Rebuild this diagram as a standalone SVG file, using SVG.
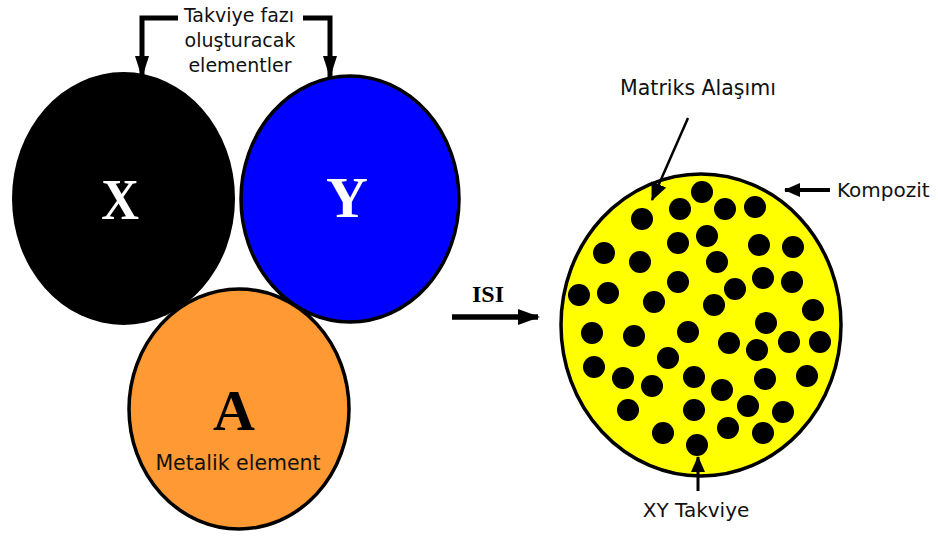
<svg xmlns="http://www.w3.org/2000/svg" width="938" height="545" viewBox="0 0 938 545">
<style>
.lbl{font-family:"DejaVu Sans","Liberation Sans",sans-serif;font-size:20px;fill:#111;}
.big{font-family:"Liberation Serif","Times New Roman",serif;font-weight:bold;font-size:58px;text-anchor:middle;}
.ln{stroke:#000;fill:none;}
.dot{fill:#000;}
</style>
<defs>
<marker id="ahT" markerUnits="userSpaceOnUse" markerWidth="22" markerHeight="16" refX="20" refY="8" orient="auto">
<path d="M0,0 L22,8 L0,16 Z" fill="#000"/>
</marker>
<marker id="ahS" markerUnits="userSpaceOnUse" markerWidth="16" markerHeight="14" refX="15" refY="7" orient="auto">
<path d="M0,0 L16,7 L0,14 Z" fill="#000"/>
</marker>
<marker id="ahB" markerUnits="userSpaceOnUse" markerWidth="22" markerHeight="14" refX="21" refY="7" orient="auto">
<path d="M0,0 L22,7 L0,14 Z" fill="#000"/>
</marker>
<marker id="ahM" markerUnits="userSpaceOnUse" markerWidth="18" markerHeight="16" refX="17" refY="8" orient="auto">
<path d="M0,0 L18,8 L0,16 Z" fill="#000"/>
</marker>
</defs>
<rect width="938" height="545" fill="#fff"/>

<g id="nodeX">
<ellipse cx="123.5" cy="198.5" rx="111.5" ry="126.5" fill="#000"/>
<text class="big" x="120" y="219" fill="#fff" transform="translate(120,0) scale(0.9,1) translate(-120,0)">X</text>
</g>
<g id="nodeY">
<ellipse cx="350" cy="199" rx="109" ry="123" fill="#0000FF" stroke="#000" stroke-width="3.5"/>
<text class="big" x="347" y="217" fill="#fff">Y</text>
</g>
<g id="nodeA">
<ellipse cx="239" cy="409" rx="110" ry="120" fill="#FF9933" stroke="#000" stroke-width="3.5"/>
<text class="big" x="234" y="430" fill="#000">A</text>
<text class="lbl" x="238" y="470" text-anchor="middle" style="font-size:20.5px">Metalik element</text>
</g>

<g id="label-takviye">
<text class="lbl" x="239" y="22" text-anchor="middle" style="font-size:19px">Takviye fazı</text>
<text class="lbl" x="240" y="47" text-anchor="middle" style="font-size:19px">oluşturacak</text>
<text class="lbl" x="240" y="72" text-anchor="middle" style="font-size:19px">elementler</text>
</g>

<g id="nodeKompozit">
<ellipse cx="701" cy="325" rx="140" ry="151" fill="#FFFF00" stroke="#000" stroke-width="3.5"/>
<g class="dot">
<circle cx="702" cy="192" r="11"/><circle cx="680" cy="209" r="11"/><circle cx="725" cy="209" r="11"/><circle cx="755" cy="207" r="11"/>
<circle cx="642" cy="219" r="11"/><circle cx="707" cy="236" r="11"/><circle cx="678" cy="243" r="11"/><circle cx="759" cy="245" r="11"/>
<circle cx="793" cy="247" r="11"/><circle cx="604" cy="253" r="11"/><circle cx="640" cy="262" r="11"/><circle cx="717" cy="262" r="11"/>
<circle cx="678" cy="282" r="11"/><circle cx="735" cy="289" r="11"/><circle cx="763" cy="278" r="11"/><circle cx="792" cy="282" r="11"/>
<circle cx="579" cy="295" r="11"/><circle cx="608" cy="293" r="11"/><circle cx="654" cy="302" r="11"/><circle cx="714" cy="305" r="11"/>
<circle cx="813" cy="310" r="11"/><circle cx="766" cy="323" r="11"/><circle cx="592" cy="333" r="11"/><circle cx="634" cy="336" r="11"/>
<circle cx="688" cy="332" r="11"/><circle cx="729" cy="343" r="11"/><circle cx="757" cy="350" r="11"/><circle cx="789" cy="342" r="11"/>
<circle cx="820" cy="342" r="11"/><circle cx="668" cy="358" r="11"/><circle cx="594" cy="367" r="11"/><circle cx="623" cy="378" r="11"/>
<circle cx="652" cy="386" r="11"/><circle cx="694" cy="377" r="11"/><circle cx="722" cy="390" r="11"/><circle cx="765" cy="379" r="11"/>
<circle cx="807" cy="376" r="11"/><circle cx="628" cy="410" r="11"/><circle cx="694" cy="410" r="11"/><circle cx="748" cy="406" r="11"/>
<circle cx="783" cy="412" r="11"/><circle cx="663" cy="433" r="11"/><circle cx="728" cy="428" r="11"/><circle cx="763" cy="433" r="11"/>
<circle cx="697" cy="445" r="11"/>
</g>
</g>

<g id="label-isi">
<text x="488" y="302" text-anchor="middle" style="font-family:'Liberation Serif',serif;font-weight:bold;font-size:24px;fill:#000">ISI</text>
</g>
<g id="label-matriks"><text class="lbl" x="698" y="95" text-anchor="middle" style="font-size:20.5px">Matriks Alaşımı</text></g>
<g id="label-kompozit"><text class="lbl" x="837" y="197">Kompozit</text></g>
<g id="label-xy"><text class="lbl" x="696" y="517" text-anchor="middle">XY Takviye</text></g>

<g id="connectors">
<path class="ln" d="M178,18 H142 V77" stroke-width="5" marker-end="url(#ahB)"/>
<path class="ln" d="M303,18 H330 V77" stroke-width="5" marker-end="url(#ahB)"/>
<line class="ln" x1="452" y1="317" x2="538" y2="317" stroke-width="5.5" marker-end="url(#ahT)"/>
<line class="ln" x1="688" y1="118" x2="652" y2="200" stroke-width="2.5" marker-end="url(#ahM)"/>
<line class="ln" x1="830" y1="190" x2="785" y2="190" stroke-width="4" marker-end="url(#ahS)"/>
<line class="ln" x1="698" y1="491" x2="698" y2="457" stroke-width="3" marker-end="url(#ahS)"/>
</g>
</svg>
